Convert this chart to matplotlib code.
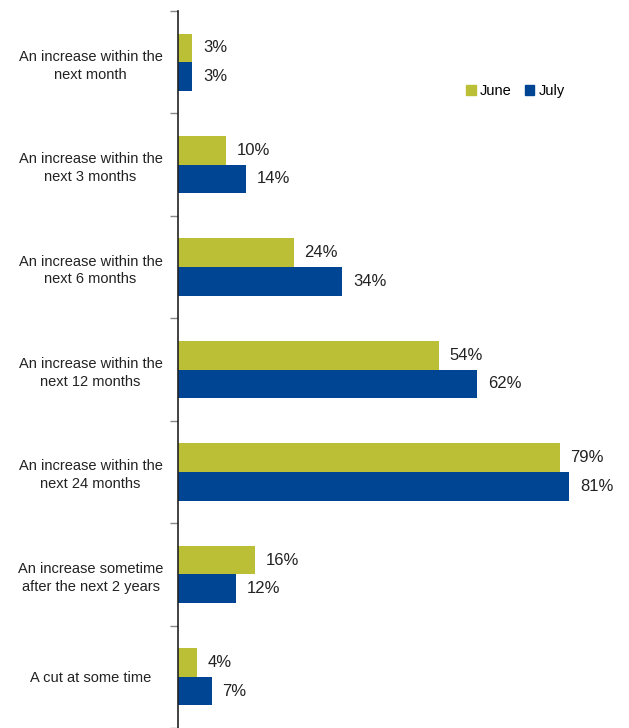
import numpy as np
import matplotlib.pyplot as plt
from matplotlib.patches import Patch

plt.rcParams['font.family'] = ['Liberation Sans', 'DejaVu Sans']

categories = [
    "An increase within the\nnext month",
    "An increase within the\nnext 3 months",
    "An increase within the\nnext 6 months",
    "An increase within the\nnext 12 months",
    "An increase within the\nnext 24 months",
    "An increase sometime\nafter the next 2 years",
    "A cut at some time",
]
june = [3, 10, 24, 54, 79, 16, 4]
july = [3, 14, 34, 62, 81, 12, 7]

june_color = "#BBBF36"
july_color = "#004494"

W, H = 629, 728
fig = plt.figure(figsize=(W / 100, H / 100), dpi=100)
ax = fig.add_axes([178 / W, 0, (620 - 178) / W, (728 - 11) / H])

n = len(categories)
y = np.arange(n)
bh = 0.28
ax.barh(y - bh / 2, june, height=bh, color=june_color)
ax.barh(y + bh / 2, july, height=bh, color=july_color)

for yi, v in zip(y, june):
    ax.text(v + 2.2, yi - bh / 2, f"{v}%", va="center", ha="left", fontsize=12, color="#222222")
for yi, v in zip(y, july):
    ax.text(v + 2.2, yi + bh / 2, f"{v}%", va="center", ha="left", fontsize=12, color="#222222")

ax.set_ylim(n - 0.5, -0.5)
ax.set_xlim(0, 91.5)

ax.set_yticks(np.arange(n + 1) - 0.5)
ax.set_yticklabels([])
ax.set_yticks(y, minor=True)
ax.set_yticklabels(categories, minor=True, fontsize=10.5, ha="center", color="#222222",
                   linespacing=1.35)
ax.tick_params(axis="y", which="minor", length=0, pad=63)
ax.tick_params(axis="y", which="major", length=6, width=1, color="#888888", direction="out")
ax.set_xticks([])

for s in ["top", "right", "bottom"]:
    ax.spines[s].set_visible(False)
ax.spines["left"].set_color("#222222")
ax.spines["left"].set_linewidth(1.2)

handles = [Patch(color=june_color, label="June"), Patch(color=july_color, label="July")]
fig.legend(handles=handles, loc="center left", bbox_to_anchor=(453 / W, 1 - 91 / H),
           ncol=2, frameon=False, fontsize=10.5, handlelength=0.65, handleheight=0.65,
           handletextpad=0.3, columnspacing=0.9)

fig.savefig("out.png", dpi=100)
